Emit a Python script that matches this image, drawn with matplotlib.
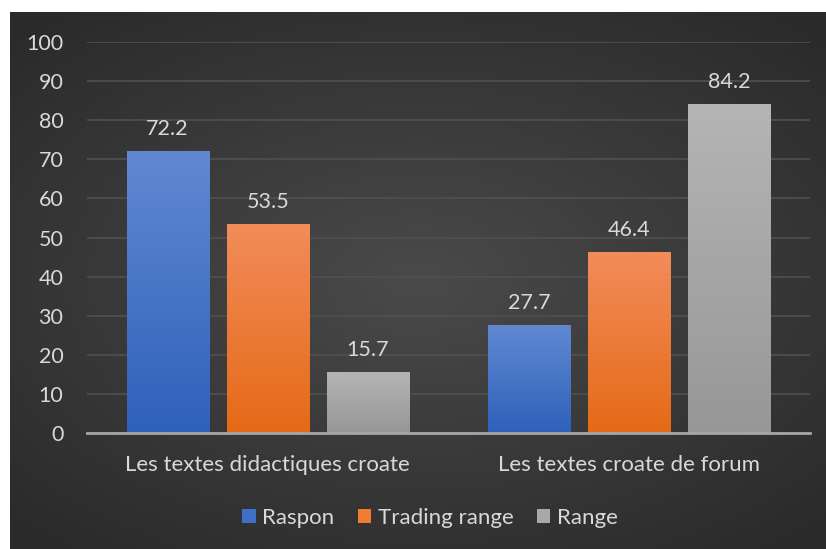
import numpy as np
import matplotlib
matplotlib.use("Agg")
import matplotlib.pyplot as plt
from matplotlib.colors import LinearSegmentedColormap
from matplotlib.patches import Patch

categories = ["Les textes didactiques croate", "Les textes croate de forum"]
series_names = ["Raspon", "Trading range", "Range"]
raspon = [72.2, 27.7]
trading_range = [53.5, 46.4]
range_vals = [15.7, 84.2]
y_ticks = [0, 10, 20, 30, 40, 50, 60, 70, 80, 90, 100]

# top / bottom colours of each series gradient
grad_colors = [("#6189d2", "#2e61ba"), ("#f28c5a", "#e56a17"), ("#b5b5b5", "#979797")]
legend_colors = ["#3f6fc6", "#f07c30", "#a8a8a8"]
text_color = "#d9d9d9"

plt.rcParams["font.family"] = ["Lato", "DejaVu Sans"]

fig = plt.figure(figsize=(8.26, 5.49), dpi=100)
fig.patch.set_facecolor("white")

# dark panel with a soft radial gradient
W, H = 826, 549
bg = fig.add_axes([10 / W, 0, 1 - 10 / W, 1 - 12 / H])
yy, xx = np.mgrid[-1:1:200j, -1:1:300j]
r = np.sqrt((xx * 0.9) ** 2 + (yy * 1.0) ** 2)
bg_cmap = LinearSegmentedColormap.from_list("bg", ["#4a4a4a", "#2a2a2a"])
bg.imshow(r, cmap=bg_cmap, aspect="auto", extent=[0, 1, 0, 1], vmin=0, vmax=1.3)
bg.set_axis_off()

ax = fig.add_axes([87 / W, 1 - 433 / H, (810 - 87) / W, (433 - 42) / H])
ax.patch.set_alpha(0)

x = np.arange(len(categories))
width = 0.227
offset = 0.277
all_series = [raspon, trading_range, range_vals]

ax.set_xlim(-0.5, 1.5)
ax.set_ylim(0, 100)

for i, vals in enumerate(all_series):
    cmap = LinearSegmentedColormap.from_list("g%d" % i, [grad_colors[i][1], grad_colors[i][0]])
    bars = ax.bar(x + (i - 1) * offset, vals, width, color="none", edgecolor="none", zorder=3)
    for b, v in zip(bars, vals):
        x0 = b.get_x()
        grad = np.linspace(0, 1, 256).reshape(-1, 1)
        im = ax.imshow(grad, cmap=cmap, origin="lower", aspect="auto",
                       extent=[x0, x0 + b.get_width(), 0, v], zorder=3)
        im.set_clip_path(b)
        ax.text(b.get_x() + b.get_width() / 2, v + 3.0, f"{v}", ha="center", va="bottom",
                color=text_color, fontsize=15.5)

ax.set_xlim(-0.5, 1.5)
ax.set_ylim(0, 100)
ax.set_yticks(y_ticks)
ax.set_xticks(x)
ax.set_xticklabels(categories)
ax.tick_params(axis="y", length=0, labelsize=15.5, labelcolor=text_color, pad=17)
ax.tick_params(axis="x", length=0, labelsize=16, labelcolor=text_color, pad=16)
ax.grid(axis="y", color="#505050", linewidth=1.2, zorder=0)
for s in ["top", "right", "left"]:
    ax.spines[s].set_visible(False)
ax.spines["bottom"].set_color("#a6a6a6")
ax.spines["bottom"].set_linewidth(2)
ax.spines["bottom"].set_zorder(4)

handles = [Patch(facecolor=c, edgecolor="none") for c in legend_colors]
fig.legend(handles, series_names, loc="center", bbox_to_anchor=(430 / W, 1 - 518 / H),
           ncol=3, frameon=False, fontsize=16, labelcolor=text_color,
           handlelength=0.6, handleheight=0.6, handletextpad=0.3, columnspacing=1.05)

fig.savefig("out.png", dpi=100)
